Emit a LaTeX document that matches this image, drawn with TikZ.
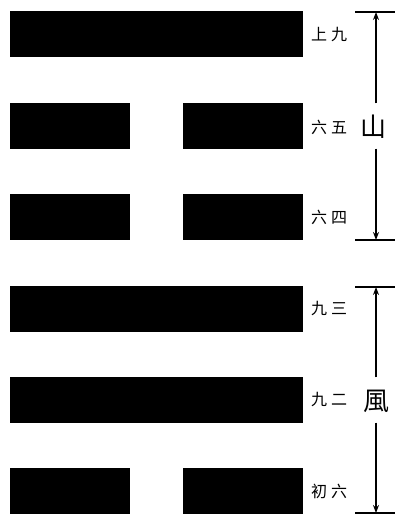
\documentclass[tikz,border=0pt]{standalone}
\usepackage{fontspec}
\newfontfamily\cjk{Noto Sans CJK TC}
\usetikzlibrary{arrows.meta, positioning}

\begin{document}
\begin{tikzpicture}[>={Stealth[length=8pt, width=6pt]}, x=1pt, y=-1pt,
  yang/.style={fill=black, inner sep=0pt, anchor=north west,
               minimum width=293pt, minimum height=46pt},
  yin/.style={fill=black, inner sep=0pt, anchor=north west,
              minimum width=120pt, minimum height=46pt},
  yao/.style={font=\cjk\fontsize{16}{16}\selectfont, anchor=west, inner sep=0pt},
  gua/.style={font=\cjk\fontsize{26}{26}\selectfont, text height=23pt,
              text depth=3pt, inner xsep=2pt, inner ysep=9.5pt}]
  \useasboundingbox (0,0) rectangle (395,515);

  % Upper trigram
  \node[yang] (l6) at (10,11) {};
  \node[yin] (l5a) at (10,103) {};
  \node[yin] (l5b) at (183,103) {};
  \node[yin] (l4a) at (10,194) {};
  \node[yin] (l4b) at (183,194) {};

  % Lower trigram
  \node[yang] (l3) at (10,286) {};
  \node[yang] (l2) at (10,377) {};
  \node[yin] (l1a) at (10,468) {};
  \node[yin] (l1b) at (183,468) {};

  % Line names
  \node[yao] (n6) at (311,35) {上\hspace{4pt}九};
  \node[yao] (n5) at (311,127) {六\hspace{4pt}五};
  \node[yao] (n4) at (311,217) {六\hspace{4pt}四};
  \node[yao] (n3) at (311,309) {九\hspace{4pt}三};
  \node[yao] (n2) at (311,400) {九\hspace{4pt}二};
  \node[yao] (n1) at (311,491) {初\hspace{4pt}六};

  % Trigram names
  \node[gua] (shan) at (373,126) {山};
  \node[gua] (feng) at (376,400) {風};

  % Ticks
  \coordinate (shantop) at (376,12);
  \coordinate (shanbot) at (376,240);
  \coordinate (fengtop) at (376,287);
  \coordinate (fengbot) at (376,513);
  \foreach \c in {shantop, shanbot, fengtop, fengbot}
    \draw[line width=2pt] (\c) ++(-21,0) -- ++(40,0);

  % Extent arrows
  \draw[->, line width=1.6pt] (shantop |- shan.north) -- (shantop);
  \draw[->, line width=1.6pt] (shanbot |- shan.south) -- (shanbot);
  \draw[->, line width=1.6pt] (fengtop |- feng.north) -- (fengtop);
  \draw[->, line width=1.6pt] (fengbot |- feng.south) -- (fengbot);
\end{tikzpicture}
\end{document}
